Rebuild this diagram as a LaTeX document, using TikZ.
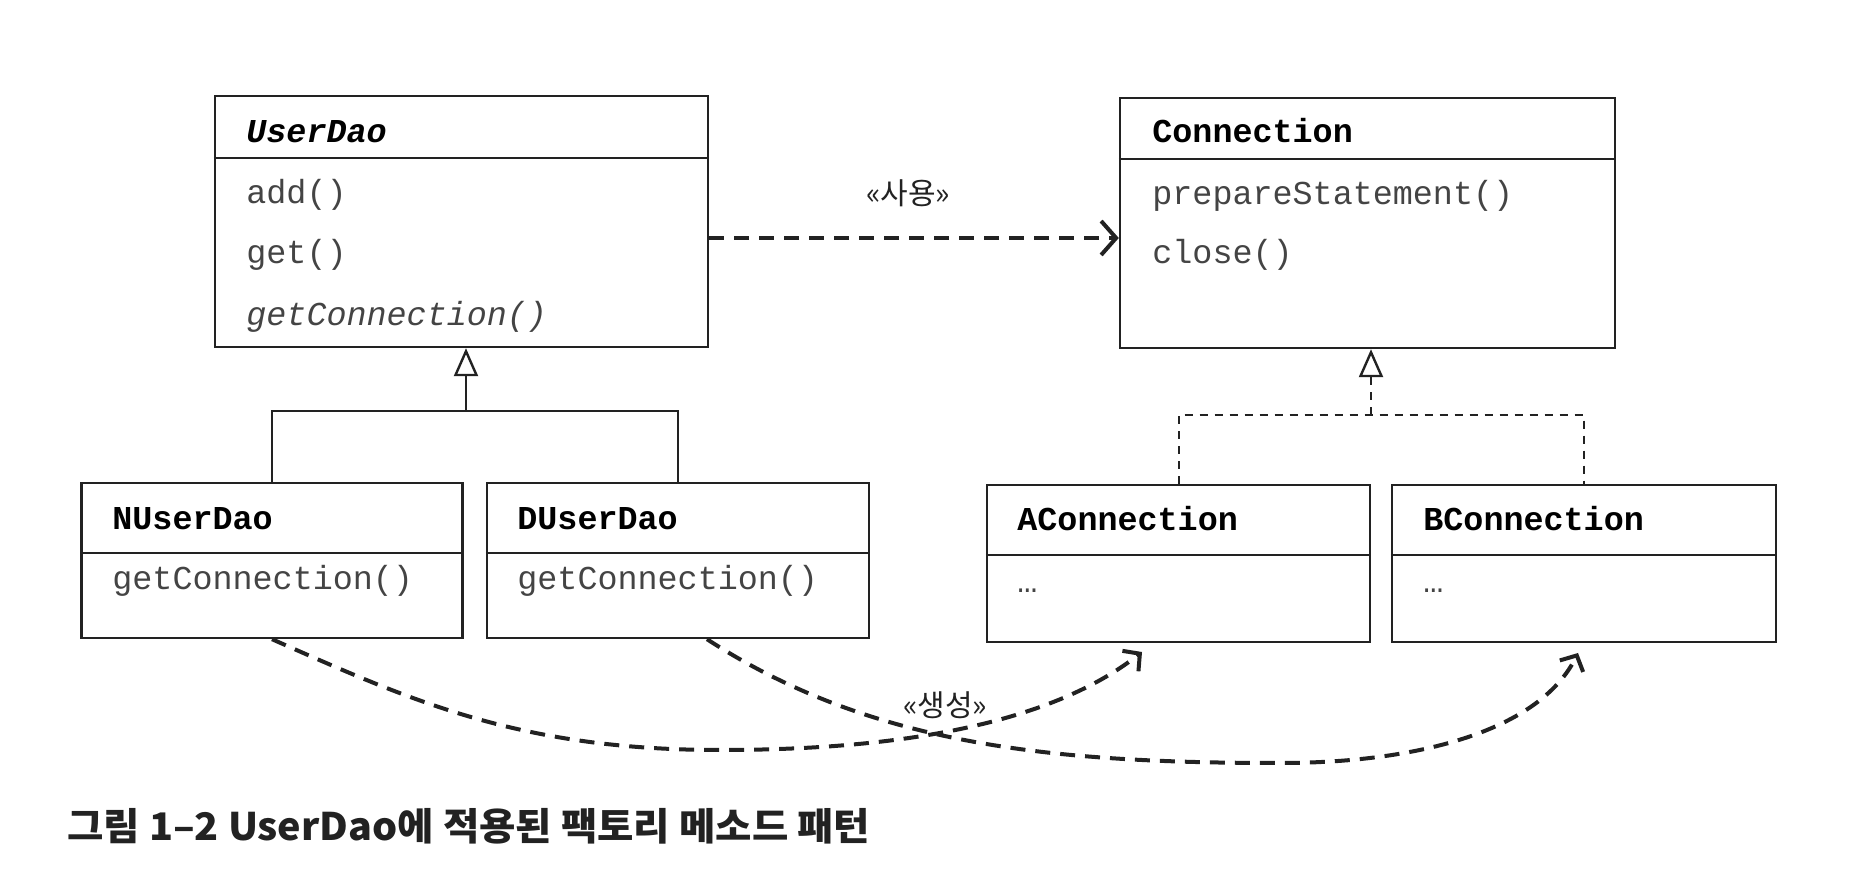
\documentclass[tikz,border=0pt]{standalone}
\usepackage{fontspec}
\usepackage{graphicx}
\setmonofont{Liberation Mono}
\newfontfamily\kr{Noto Sans CJK KR}
\usetikzlibrary{arrows.meta}
\definecolor{ink}{HTML}{222222}
\definecolor{methink}{HTML}{444444}
\begin{document}
\begin{tikzpicture}[x=0.5pt,y=-0.5pt,
  box/.style={draw=ink, line width=1.2pt, inner sep=0pt, rectangle},
  cname/.style={anchor=mid west, inner sep=0pt, text=black, font=\ttfamily\bfseries\fontsize{16.7}{20}\selectfont},
  meth/.style={anchor=mid west, inner sep=0pt, text=methink, font=\ttfamily\fontsize{16.7}{20}\selectfont},
  gen/.style={draw=ink, line width=1.2pt},
  real/.style={draw=ink, line width=1pt, dash pattern=on 4pt off 3.5pt},
  dep/.style={draw=ink, line width=2pt, dash pattern=on 7.5pt off 5pt,
    -{Straight Barb[length=6pt,width=13pt,line width=2pt]}},
  bigbarb/.style={-{Straight Barb[length=7.5pt,width=17pt,line width=2pt]}},
  krlabel/.style={inner sep=0pt, text=ink, font=\kr\fontsize{15}{18}\selectfont},
  hollow/.style={-{Triangle[open, length=14pt, width=12pt, line width=1.2pt]}}
]
\fill[white] (0,0) rectangle (1864,892);
\useasboundingbox (0,0) rectangle (1864,892);

% class boxes
\node[box, minimum width=246.5pt, minimum height=125.5pt] (userdao) at (461.5,221.5) {};
\node[box, minimum width=247.5pt, minimum height=125pt] (connection) at (1367.5,223) {};
\node[box, minimum width=190.5pt, minimum height=77.5pt] (nuserdao) at (272,560.5) {};
\node[box, minimum width=191pt, minimum height=77.5pt] (duserdao) at (678,560.5) {};
\node[box, minimum width=191.5pt, minimum height=78.5pt] (aconn) at (1178.5,563.5) {};
\node[box, minimum width=192pt, minimum height=78.5pt] (bconn) at (1584,563.5) {};

% compartment separators
\draw[gen] (userdao.west |- 0,158) -- (userdao.east |- 0,158);
\draw[gen] (connection.west |- 0,159) -- (connection.east |- 0,159);
\draw[gen] (nuserdao.west |- 0,553) -- (nuserdao.east |- 0,553);
\draw[gen] (duserdao.west |- 0,553) -- (duserdao.east |- 0,553);
\draw[gen] (aconn.west |- 0,555) -- (aconn.east |- 0,555);
\draw[gen] (bconn.west |- 0,555) -- (bconn.east |- 0,555);

% texts
\node[cname, font=\ttfamily\bfseries\itshape\fontsize{16.7}{20}\selectfont] (tuserdao) at (246,138) {UserDao};
\node[meth] (tadd) at (246,199) {add()};
\node[meth] (tget) at (246,259) {get()};
\node[meth, font=\ttfamily\itshape\fontsize{16.7}{20}\selectfont] (tgetc) at (246,321) {getConnection()};

\node[cname] (tconn) at (1152,138) {Connection};
\node[meth] (tprep) at (1152,200) {prepareStatement()};
\node[meth] (tclose) at (1152,259) {close()};

\node[cname] (tnuser) at (112,525) {NUserDao};
\node[meth] (tngetc) at (112,585) {getConnection()};
\node[cname] (tduser) at (517,525) {DUserDao};
\node[meth] (tdgetc) at (517,585) {getConnection()};

\node[cname] (taconn) at (1017,526) {AConnection};
\node[meth] (tadots) at (1017,588) {…};
\node[cname] (tbconn) at (1423,526) {BConnection};
\node[meth] (tbdots) at (1423,588) {…};

% generalization (inheritance)
\coordinate (gj) at (466,411);
\draw[gen] (nuserdao.north) |- (gj) -| (duserdao.north);
\draw[gen, hollow] (gj) -- (gj |- userdao.south);

% realization
\coordinate (cj) at (1371,415);
\draw[real] (aconn.north) |- (cj) -| (bconn.north);
\draw[real, hollow] (cj) -- (cj |- connection.south);

% use dependency
\draw[dep, bigbarb] (userdao.east |- 0,238) -- (connection.west |- 0,238);
\node[krlabel] (use) at (908,193) {«사용»};

% creation dependencies
\coordinate (a1) at (1142,652);
\coordinate (a2) at (1578,653);
\draw[dep] (nuserdao.south) .. controls (412,701) and (520,750) .. (720,750)
  .. controls (870,750) and (1040,732) .. (a1);
\draw[dep] ([xshift=14.5pt]duserdao.south) .. controls (870,745) and (1050,763) .. (1280,763)
  .. controls (1420,763) and (1540,730) .. (a2);
\node[krlabel] (create) at (945,705) {«생성»};

% caption
\node[anchor=west, inner sep=0pt, text=ink, font=\kr\bfseries\fontsize{19}{23}\selectfont] (cap) at (67,826) {\scalebox{1.04}[1]{그림 1–2 UserDao에 적용된 팩토리 메소드 패턴}};
\end{tikzpicture}
\end{document}
